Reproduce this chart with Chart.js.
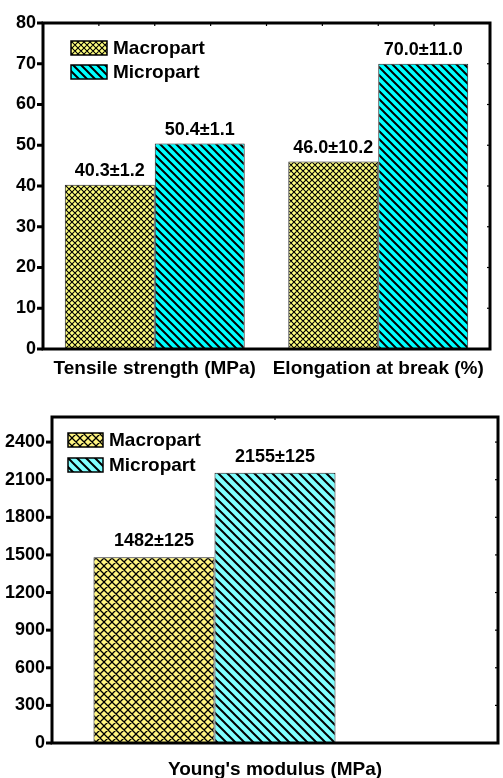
<!DOCTYPE html>
<html>
<head>
<meta charset="utf-8">
<script src="https://cdn.jsdelivr.net/npm/chart.js@4.4.1/dist/chart.umd.min.js"></script>
<style>
  body { margin: 0; background: #fff; width: 503px; height: 778px; overflow: hidden; }
  .panel { position: absolute; left: 0; width: 503px; }
  #topPanel { top: 0; height: 390px; }
  #bottomPanel { top: 390px; height: 388px; }
</style>
</head>
<body>
<div class="panel" id="topPanel"><canvas id="tensileChart"></canvas></div>
<div class="panel" id="bottomPanel"><canvas id="modulusChart"></canvas></div>
<script>
// Mechanical properties: macro- vs micro-moulded parts
const seriesNames = ['Macropart', 'Micropart'];

const tensileCategories = ['Tensile strength (MPa)', 'Elongation at break (%)'];
const tensileMacro = [40.3, 46.0];
const tensileMacroErr = [1.2, 10.2];
const tensileMicro = [50.4, 70.0];
const tensileMicroErr = [1.1, 11.0];

const modulusCategories = ["Young's modulus (MPa)"];
const modulusMacro = [1482];
const modulusMacroErr = [125];
const modulusMicro = [2155];
const modulusMicroErr = [125];

const FONT = "'Liberation Sans', Arial, sans-serif";

// Build a repeating hatch fill: "\" lines, plus "/" lines when cross is set
function hatch(ctx, bg, period, cross, lw) {
  const tile = document.createElement('canvas');
  tile.width = tile.height = period;
  const g = tile.getContext('2d');
  g.fillStyle = bg;
  g.fillRect(0, 0, period, period);
  g.strokeStyle = '#000';
  g.lineWidth = lw;
  g.beginPath();
  g.moveTo(-2, -2); g.lineTo(period + 2, period + 2);
  g.moveTo(-2, period - 2); g.lineTo(2, period + 2);
  g.moveTo(period - 2, -2); g.lineTo(period + 2, 2);
  if (cross) {
    g.moveTo(period + 2, -2); g.lineTo(-2, period + 2);
    g.moveTo(2, -2); g.lineTo(-2, 2);
    g.moveTo(period + 2, period - 2); g.lineTo(period - 2, period + 2);
  }
  g.stroke();
  return ctx.createPattern(tile, 'repeat');
}

// Thick box around the plot, outward ticks on the left, small inner ticks right/top
const framePlugin = {
  id: 'frame',
  afterDraw(chart, args, opts) {
    const { ctx, chartArea: a } = chart;
    const y = chart.scales.y;
    ctx.save();
    ctx.strokeStyle = '#000';
    y.ticks.forEach(t => {
      if (t.value % opts.minorStep !== 0 || t.value > opts.lastTick) return;
      const py = y.getPixelForValue(t.value);
      const major = t.value % opts.majorStep === 0;
      ctx.lineWidth = major ? 3 : 2.5;
      ctx.beginPath();
      ctx.moveTo(a.left - (major ? 6 : 3.5), py);
      ctx.lineTo(a.left, py);
      ctx.stroke();
      ctx.lineWidth = 1.2;
      ctx.beginPath();
      ctx.moveTo(a.right - 3, py);
      ctx.lineTo(a.right, py);
      ctx.stroke();
    });
    for (let i = 1; i < opts.topTicks; i++) {
      const px = a.left + (a.right - a.left) * i / opts.topTicks;
      ctx.lineWidth = 1.2;
      ctx.beginPath();
      ctx.moveTo(px, a.top);
      ctx.lineTo(px, a.top + 3);
      ctx.stroke();
    }
    ctx.lineWidth = 3;
    ctx.strokeRect(a.left, a.top, a.right - a.left, a.bottom - a.top);
    ctx.restore();
  }
};

// "value±error" text above every bar
const valueLabelPlugin = {
  id: 'valueLabels',
  afterDatasetsDraw(chart, args, opts) {
    const { ctx } = chart;
    ctx.save();
    ctx.font = `bold ${opts.size}px ${FONT}`;
    ctx.fillStyle = '#000';
    ctx.textAlign = 'center';
    ctx.textBaseline = 'alphabetic';
    chart.data.datasets.forEach((ds, di) => {
      if (!ds.errors) return;
      chart.getDatasetMeta(di).data.forEach((bar, i) => {
        const v = ds.data[i];
        const txt = `${v.toFixed(opts.decimals)}±${ds.errors[i].toFixed(opts.decimals)}`;
        ctx.fillText(txt, bar.x, bar.y - opts.gap);
      });
    });
    ctx.restore();
  }
};

// Legend box drawn inside the plot, top-left
const innerLegendPlugin = {
  id: 'innerLegend',
  afterDraw(chart, args, opts) {
    const { ctx, chartArea: a } = chart;
    ctx.save();
    ctx.font = `bold ${opts.size}px ${FONT}`;
    ctx.textBaseline = 'middle';
    ctx.textAlign = 'left';
    chart.data.datasets.filter(ds => ds.label).forEach((ds, i) => {
      const x = a.left + opts.dx;
      const y = a.top + opts.dy + i * opts.rowGap;
      ctx.fillStyle = ds.backgroundColor;
      ctx.fillRect(x, y, opts.boxW, opts.boxH);
      ctx.lineWidth = 1.5;
      ctx.strokeStyle = '#000';
      ctx.strokeRect(x, y, opts.boxW, opts.boxH);
      ctx.fillStyle = '#000';
      ctx.fillText(ds.label, x + opts.boxW + 6, y + opts.boxH / 2 + 1);
    });
    ctx.restore();
  }
};

function baseOptions(cfg) {
  return {
    responsive: true,
    maintainAspectRatio: false,
    animation: false,
    devicePixelRatio: 1,
    layout: { padding: { top: cfg.padTop, right: cfg.padRight, left: 0, bottom: 0 } },
    plugins: {
      legend: { display: false },
      tooltip: { enabled: false },
      frame: cfg.frame,
      valueLabels: cfg.values,
      innerLegend: cfg.legend
    },
    scales: {
      x: {
        grid: { display: false, drawTicks: false },
        border: { display: false },
        ticks: { color: '#000', padding: cfg.xPad, font: { family: FONT, size: 19, weight: 'bold' } },
        afterFit: s => { s.height = cfg.xHeight; }
      },
      y: {
        min: 0,
        max: cfg.yMax,
        grid: { display: false, drawTicks: false },
        border: { display: false },
        ticks: {
          stepSize: cfg.yStep,
          padding: 7,
          color: '#000',
          font: { family: FONT, size: 18, weight: 'bold' },
          callback: v => (v % cfg.yLabelStep === 0 && v <= cfg.yLabelMax ? v : '')
        },
        afterFit: s => { s.width = cfg.yWidth; }
      }
    }
  };
}

// Top panel: tensile strength and elongation at break
const tCtx = document.getElementById('tensileChart').getContext('2d');
new Chart(tCtx, {
  type: 'bar',
  data: {
    labels: tensileCategories,
    datasets: [
      {
        label: seriesNames[0],
        data: tensileMacro,
        errors: tensileMacroErr,
        backgroundColor: hatch(tCtx, '#ffff80', 6, true, 1.1),
        borderColor: '#222',
        borderWidth: 1,
        categoryPercentage: 0.805,
        barPercentage: 1
      },
      {
        label: seriesNames[1],
        data: tensileMicro,
        errors: tensileMicroErr,
        backgroundColor: hatch(tCtx, '#00ffff', 8, false, 2),
        borderColor: '#222',
        borderWidth: 1,
        categoryPercentage: 0.805,
        barPercentage: 1
      }
    ]
  },
  options: baseOptions({
    padTop: 23, padRight: 13, xHeight: 41, xPad: 8, yWidth: 43,
    yMax: 80, yStep: 5, yLabelStep: 10, yLabelMax: 80,
    frame: { minorStep: 5, majorStep: 10, lastTick: 80, topTicks: 8 },
    values: { size: 18, decimals: 1, gap: 9 },
    legend: { size: 19, dx: 28, dy: 18, rowGap: 24, boxW: 36, boxH: 14 }
  }),
  plugins: [framePlugin, valueLabelPlugin, innerLegendPlugin]
});

// Bottom panel: Young's modulus (an empty third slot keeps the pair left of centre)
const mCtx = document.getElementById('modulusChart').getContext('2d');
new Chart(mCtx, {
  type: 'bar',
  data: {
    labels: modulusCategories,
    datasets: [
      {
        label: seriesNames[0],
        data: modulusMacro,
        errors: modulusMacroErr,
        backgroundColor: hatch(mCtx, '#fff480', 8, true, 1.3),
        borderColor: '#222',
        borderWidth: 1,
        categoryPercentage: 0.814,
        barPercentage: 1
      },
      {
        label: seriesNames[1],
        data: modulusMicro,
        errors: modulusMicroErr,
        backgroundColor: hatch(mCtx, '#80ffff', 9, false, 2),
        borderColor: '#222',
        borderWidth: 1,
        categoryPercentage: 0.814,
        barPercentage: 1
      },
      {
        label: '',
        data: [null],
        categoryPercentage: 0.814,
        barPercentage: 1
      }
    ]
  },
  options: baseOptions({
    padTop: 27, padRight: 5, xHeight: 35, xPad: 15, yWidth: 52,
    yMax: 2600, yStep: 150, yLabelStep: 300, yLabelMax: 2400,
    frame: { minorStep: 150, majorStep: 300, lastTick: 2550, topTicks: 2 },
    values: { size: 18, decimals: 0, gap: 11 },
    legend: { size: 19, dx: 16, dy: 16, rowGap: 25, boxW: 35, boxH: 14 }
  }),
  plugins: [framePlugin, valueLabelPlugin, innerLegendPlugin]
});
</script>
</body>
</html>
